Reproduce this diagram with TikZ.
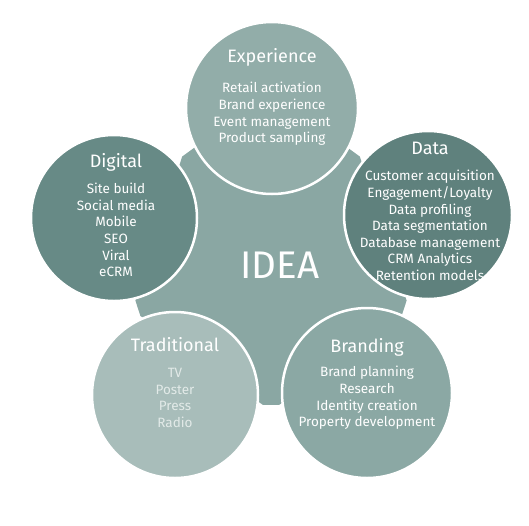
\documentclass[tikz,border=0pt]{standalone}
\usepackage{fontspec}
\setmainfont{Fira Sans}
\usetikzlibrary{calc}
\definecolor{cexp}{HTML}{92ADA9}
\definecolor{cdata}{HTML}{5F817D}
\definecolor{cdig}{HTML}{678A86}
\definecolor{ctrad}{HTML}{A8BDBA}
\definecolor{cbrand}{HTML}{8BA8A4}
\definecolor{cpent}{HTML}{8AA7A3}
\definecolor{ctradtext}{HTML}{E2EAE8}
\begin{document}
\begin{tikzpicture}[x=1pt,y=-1pt,
  ring/.style={circle, draw=white, line width=2.5pt, inner sep=0pt, minimum size=#1},
  ttl/.style={text=white, inner sep=0pt, font=\fontsize{18}{20}\selectfont},
  items/.style={text=white, inner sep=0pt, align=center, font=\fontsize{13.5}{16.6}\selectfont},
]
\useasboundingbox (0,0) rectangle (529,525);
\coordinate (c) at (271,265);
% central truncated pentagon
\fill[cpent] ($(c)+(86.7:140.2)$) -- ($(c)+(93.3:140.2)$)
  -- ($(c)+(158.7:140.2)$) -- ($(c)+(165.3:140.2)$)
  -- ($(c)+(230.7:140.2)$) -- ($(c)+(237.3:140.2)$)
  -- ($(c)+(302.7:140.2)$) -- ($(c)+(309.3:140.2)$)
  -- ($(c)+(14.7:140.2)$) -- ($(c)+(21.3:140.2)$) -- cycle;
% circles
\node[ring=172pt, fill=cexp] (exp) at (272,108) {};
\node[ring=168pt, fill=cdata] (data) at (428,215) {};
\node[ring=166pt, fill=cdig] (dig) at (114,218) {};
\node[ring=166pt, fill=ctrad] (trad) at (175,395) {};
\node[ring=170pt, fill=cbrand] (brand) at (367,393) {};
% center text
\node[text=white, font=\fontsize{38.5}{40}\selectfont] (idea) at (280,265) {IDEA};
% Experience
\node[ttl] (expt) at (272,57) {Experience};
\node[items] (expi) at (272,114) {Retail activation\\Brand experience\\Event management\\Product sampling};
% Data
\node[ttl] (datat) at (430,148) {Data};
\node[items] (datai) at (430,225.5) {Customer acquisition\\Engagement/Loyalty\\Data profiling\\Data segmentation\\Database management\\CRM Analytics\\Retention models};
% Digital
\node[ttl] (digt) at (116,162) {Digital};
\node[items] (digi) at (116,230) {Site build\\Social media\\Mobile\\SEO\\Viral\\eCRM};
% Traditional
\node[ttl] (tradt) at (175,345) {Traditional};
\node[items, text=ctradtext] (tradi) at (175,398) {TV\\Poster\\Press\\Radio};
% Branding
\node[ttl] (brandt) at (367,347) {Branding};
\node[items] (brandi) at (367,398) {Brand planning\\Research\\Identity creation\\Property development};
\end{tikzpicture}
\end{document}
